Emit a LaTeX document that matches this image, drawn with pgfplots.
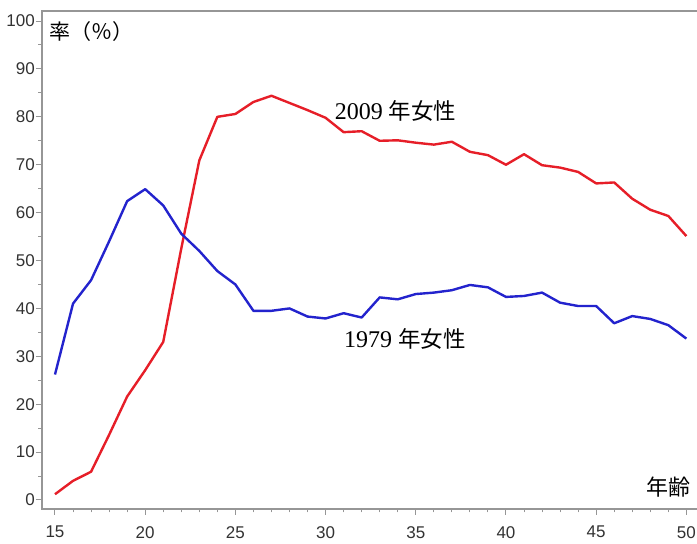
\documentclass[border=0pt]{standalone}
\usepackage{pgfplots}
\pgfplotsset{compat=1.18}
\usepackage{fontspec}
\setmainfont{Liberation Serif}
\setsansfont{Liberation Sans}
\newfontfamily\cjk{Noto Sans CJK JP}
\definecolor{myred}{RGB}{230,30,40}
\definecolor{myblue}{RGB}{35,35,205}
\definecolor{axgray}{RGB}{150,150,150}
\definecolor{tickgray}{RGB}{50,50,50}
\pgfplotstableread{
age v
15 1.2
16 4.0
17 5.9
18 13.6
19 21.6
20 27.1
21 33.0
22 52.5
23 70.9
24 80.0
25 80.6
26 83.1
27 84.4
28 82.9
29 81.4
30 79.8
31 76.8
32 77.0
33 75.0
34 75.1
35 74.6
36 74.2
37 74.8
38 72.7
39 72.0
40 70.0
41 72.2
42 69.9
43 69.4
44 68.5
45 66.1
46 66.3
47 62.9
48 60.6
49 59.3
50 55.1
}\redtab
\pgfplotstableread{
age v
15 26.2
16 41.0
17 45.9
18 54.0
19 62.4
20 64.9
21 61.5
22 55.6
23 52.0
24 47.8
25 45.0
26 39.5
27 39.5
28 40.0
29 38.3
30 37.9
31 39.0
32 38.1
33 42.3
34 41.9
35 43.0
36 43.3
37 43.8
38 44.9
39 44.4
40 42.4
41 42.6
42 43.3
43 41.2
44 40.5
45 40.5
46 36.9
47 38.4
48 37.8
49 36.5
50 33.7
}\bluetab
\begin{document}
\begin{tikzpicture}
\useasboundingbox (0pt,0pt) rectangle (697pt,544pt);
\begin{axis}[
  at={(42pt,35pt)}, anchor=south west,
  scale only axis, width=657pt, height=498pt,
  xmin=14.28, xmax=50.70, ymin=-1.88, ymax=102.1,
  xtick={15,20,...,50}, ytick={0,10,...,100},
  minor x tick num=4, minor y tick num=1,
  tick align=outside, tick pos=left,
  major tick length=6pt, minor tick length=3.5pt,
  axis line style={axgray, line width=1.2pt},
  tick style={axgray, line width=1pt},
  /pgf/number format/assume math mode=true,
  tick label style={font=\sffamily\fontsize{17}{17}\selectfont, text=tickgray},
  yticklabel style={inner sep=0pt, xshift=-1pt},
  xticklabel style={inner sep=0pt, yshift=-11pt},
  clip=false,
]
\addplot[myred, line width=2.4pt, no marks, line join=round] table[x=age,y=v] {\redtab};
\addplot[myblue, line width=2.4pt, no marks, line join=round] table[x=age,y=v] {\bluetab};
\node[anchor=base west, inner sep=0pt] at (axis cs:30.50,79.5) {\fontsize{24}{24}\selectfont 2009 {\cjk\fontsize{22.5}{22.5}\selectfont 年女性}};
\node[anchor=base west, inner sep=0pt] at (axis cs:31.02,31.9) {\fontsize{24}{24}\selectfont 1979 {\cjk\fontsize{22.5}{22.5}\selectfont 年女性}};
\node[anchor=base west, inner sep=0pt] at (axis cs:47.76,0.94) {\cjk\fontsize{22}{22}\selectfont 年齢};
\node[anchor=base west, inner sep=0pt] at (axis cs:14.69,96.2) {\cjk\fontsize{21}{21}\selectfont 率（％）};
\end{axis}
\end{tikzpicture}
\end{document}
